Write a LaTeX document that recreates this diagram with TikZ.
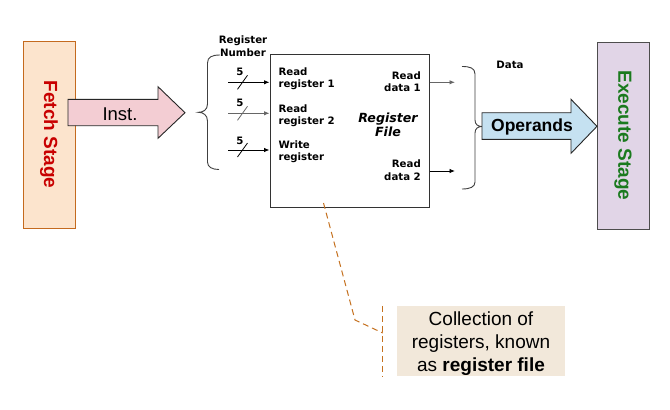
\documentclass[tikz,border=0pt]{standalone}
\usepackage{fontspec}
\setmainfont{Liberation Sans}
\newfontfamily\vfont{DejaVu Sans}
\usetikzlibrary{arrows.meta}
\definecolor{fetchfill}{HTML}{FCE4CD}
\definecolor{fetchdraw}{HTML}{C46A1E}
\definecolor{fetchtext}{HTML}{C80000}
\definecolor{execfill}{HTML}{E1D5E7}
\definecolor{execdraw}{HTML}{4D4D4D}
\definecolor{exectext}{HTML}{1A7A1E}
\definecolor{instfill}{HTML}{F3CDD3}
\definecolor{opfill}{HTML}{C5E1F1}
\definecolor{callfill}{HTML}{F2E8DA}
\definecolor{leadcol}{HTML}{C5711F}
\tikzset{
  stagebox/.style={rectangle, line width=1pt, rotate=-90, inner sep=0pt,
    minimum width=187pt, minimum height=52pt,
    font=\fontsize{19}{22}\selectfont\bfseries},
  bigarrow/.style={draw=black!85, line width=0.9pt},
  small/.style={inner sep=0pt, font=\vfont\fontsize{10.2}{12}\selectfont\bfseries},
  sig/.style={line width=0.9pt, -{Latex[length=5.5pt,width=4.5pt]}},
  bracepath/.style={draw=black!75, line width=0.9pt},
  leader/.style={draw=leadcol, line width=1pt, dash pattern=on 6pt off 4pt},
}
\begin{document}
\begin{tikzpicture}[x=1pt,y=-1pt]
\useasboundingbox (0,0) rectangle (670,410);
\fill[white] (0,0) rectangle (670,410);

% stages
\node[stagebox, draw=fetchdraw, fill=fetchfill, text=fetchtext] (fetch) at (49,134.5) {Fetch Stage};
\node[stagebox, draw=execdraw, fill=execfill, text=exectext] (exec) at (623,135.5) {Execute Stage};

% Inst. arrow
\draw[bigarrow, fill=instfill] (68,99.3) -- (158,99.3) -- (158,86.7) -- (185,112.7) -- (158,138.3) -- (158,125.7) -- (68,125.7) -- cycle;
\node[inner sep=0pt, anchor=base, font=\fontsize{18.5}{21}\selectfont] (inst) at (120,120) {Inst.};

% register file
\node[rectangle, draw=black!80, line width=1pt, minimum width=159pt, minimum height=153pt, inner sep=0pt] (regfile) at (349.5,130.5) {};

% left brace
\draw[bracepath] (220,55) .. controls (212,55) and (207.5,57) .. (207.5,63) -- (207.5,104)
  .. controls (207.5,110) and (203,112.3) .. (198.5,112.3)
  .. controls (203,112.3) and (207.5,115) .. (207.5,121) -- (207.5,162)
  .. controls (207.5,167) and (212,169.5) .. (219,169.5);
\node[small, anchor=base, align=center, font=\vfont\fontsize{10.2}{12.7}\selectfont\bfseries] (regnum) at (243,56) {Register\\Number};

% input signals
\coordinate (in1) at (228,82.3);
\coordinate (in2) at (228,113.3);
\coordinate (in3) at (228,150);
\draw[sig, black] (in1) -- (in1 -| regfile.west);
\draw[sig, black!60] (in2) -- (in2 -| regfile.west);
\draw[sig, black] (in3) -- (in3 -| regfile.west);
\draw[line width=0.8pt] ([shift={(9.5,7)}]in1) -- ([shift={(19.5,-7)}]in1);
\draw[line width=0.8pt, black!60] ([shift={(9.5,7)}]in2) -- ([shift={(19.5,-7)}]in2);
\draw[line width=0.8pt] ([shift={(9.5,7)}]in3) -- ([shift={(19.5,-7)}]in3);
\node[small, anchor=base] (w1) at (240,75) {5};
\node[small, anchor=base] (w2) at (240,106.5) {5};
\node[small, anchor=base] (w3) at (240,144) {5};

\node[small, anchor=base west, align=left] (rr1) at (278.3,87.5) {Read\\register 1};
\node[small, anchor=base west, align=left] (rr2) at (278.3,124.3) {Read\\register 2};
\node[small, anchor=base west, align=left] (wr) at (278.3,160.7) {Write\\register};
\node[small, anchor=base east, align=right, font=\vfont\fontsize{10.2}{12.7}\selectfont\bfseries] (rd1) at (421,91.7) {Read\\data 1};
\node[small, anchor=base east, align=right, font=\vfont\fontsize{10.2}{12.7}\selectfont\bfseries] (rd2) at (421,180) {Read\\data 2};
\node[inner sep=0pt, anchor=base, align=center, font=\vfont\fontsize{12.6}{14}\selectfont\bfseries\itshape] (rflabel) at (388,136.7) {Register\\File};

% output signals
\coordinate (out1) at (455,82.3);
\coordinate (out2) at (455,171);
\draw[sig, black!60] (regfile.east |- out1) -- (out1);
\draw[sig, black] (regfile.east |- out2) -- (out2);

% right brace
\draw[bracepath] (462,66.5) .. controls (470,66.5) and (475,68) .. (475,74) -- (475,120)
  .. controls (475,124.5) and (478,126.5) .. (482,126.5)
  .. controls (478,126.5) and (475,128.5) .. (475,133) -- (475,182)
  .. controls (475,187) and (470,189) .. (462,189);
\node[small, anchor=base] (data) at (510,68.3) {Data};

% Operands arrow
\draw[bigarrow, fill=opfill] (482,112.7) -- (571,112.7) -- (571,99.3) -- (597,126.3) -- (571,153.3) -- (571,139.3) -- (482,139.3) -- cycle;
\node[inner sep=0pt, anchor=base, font=\fontsize{17.5}{20}\selectfont\bfseries] (ops) at (532,131.7) {Operands};

% callout
\node[rectangle, fill=callfill, minimum width=168pt, minimum height=70pt, inner sep=0pt] (call) at (481,341) {};
\node[inner sep=0pt, anchor=base, align=center, font=\fontsize{19}{23}\selectfont] (calltext) at (481,371) {Collection of\\registers, known\\as \textbf{register file}};
\coordinate (lead) at (323.5,203);
\coordinate (bend) at (355,320);
\coordinate (foot) at ([xshift=-14pt]call.west |- 0,333);
\draw[leader] (lead) -- (bend) -- (foot);
\draw[leader] ([xshift=-14pt]call.north west) -- ([xshift=-14pt]call.south west);
\end{tikzpicture}
\end{document}
